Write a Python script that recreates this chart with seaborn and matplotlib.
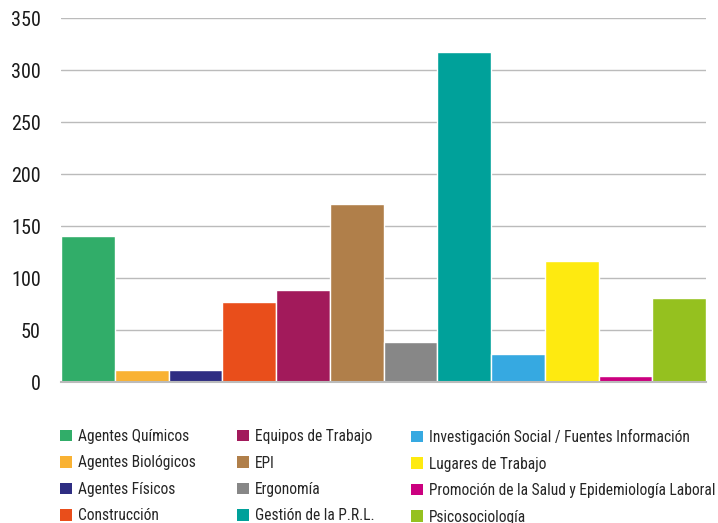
import pandas as pd
import seaborn as sns
import matplotlib.pyplot as plt
from matplotlib import font_manager
from matplotlib.patches import Patch

# datos de la grafica
categorias = ['Agentes Químicos', 'Agentes Biológicos', 'Agentes Físicos', 'Construcción',
              'Equipos de Trabajo', 'EPI', 'Ergonomía', 'Gestión de la P.R.L.',
              'Investigación Social / Fuentes Información', 'Lugares de Trabajo',
              'Promoción de la Salud y Epidemiología Laboral', 'Psicosociología']
valores = [140, 12, 12, 77, 88, 171, 38, 317, 27, 116, 6, 81]
colores = ['#31ad69', '#f9b233', '#2e2d82', '#e94e1b', '#a21a5b', '#b07f4a',
           '#878787', '#00a19a', '#36a9e1', '#feea10', '#cb007f', '#95c11f']
yticks = [0, 50, 100, 150, 200, 250, 300, 350]

df = pd.DataFrame({'cat': categorias, 'val': valores})

# fuente estrecha si hay alguna, si no Roboto un poco mas chica
nombres = {f.name for f in font_manager.fontManager.ttflist}
leg_size = 10
for fam in ['Liberation Sans Narrow', 'Roboto Condensed']:
    if fam in nombres:
        familia = fam
        leg_size = 11.2
        break
else:
    familia = 'Roboto'

sns.set_style('white')
plt.rcParams['font.family'] = [familia, 'DejaVu Sans']

fig = plt.figure(figsize=(7.18, 5.23), dpi=100)
ax = fig.add_axes([61 / 718, 1 - 382 / 523, 645 / 718, 364 / 523])

sns.barplot(data=df, x='cat', y='val', hue='cat', palette=colores, width=1, saturation=1,
            edgecolor='white', linewidth=1, legend=False, ax=ax, zorder=3)

ax.set_ylim(0, 350)
ax.set_xlim(-0.5, len(categorias) - 0.5)
ax.set_yticks(yticks)
ax.set_yticklabels([str(t) for t in yticks], fontsize=14.5, color='#1a1a1a')
ax.set_xticks([])
ax.set_xlabel('')
ax.set_ylabel('')
ax.yaxis.grid(True, color='#bbbbbb', linewidth=1, zorder=0)
ax.tick_params(axis='y', length=0, pad=14.5)
sns.despine(ax=ax, left=True, right=True, top=True)
ax.spines['bottom'].set_color('#bbbbbb')
ax.spines['bottom'].set_linewidth(1.5)
ax.spines['bottom'].set_zorder(4)

# tres columnas de leyenda, cada una en su sitio
px = leg_size * 100 / 72
col_x = [60, 237, 411]
for i, x0 in enumerate(col_x):
    idx = range(i * 4, i * 4 + 4)
    handles = [Patch(facecolor=colores[j], edgecolor='none') for j in idx]
    labels = [categorias[j] for j in idx]
    fig.legend(handles, labels, loc='upper left', bbox_to_anchor=(x0 / 718, 1 - 429 / 523),
               frameon=False, fontsize=leg_size, handlelength=12 / px, handleheight=12 / px,
               handletextpad=6 / px, labelspacing=(25.5 - 0.9 * px) / px,
               borderpad=0, borderaxespad=0)

fig.savefig('out.png', dpi=100)
